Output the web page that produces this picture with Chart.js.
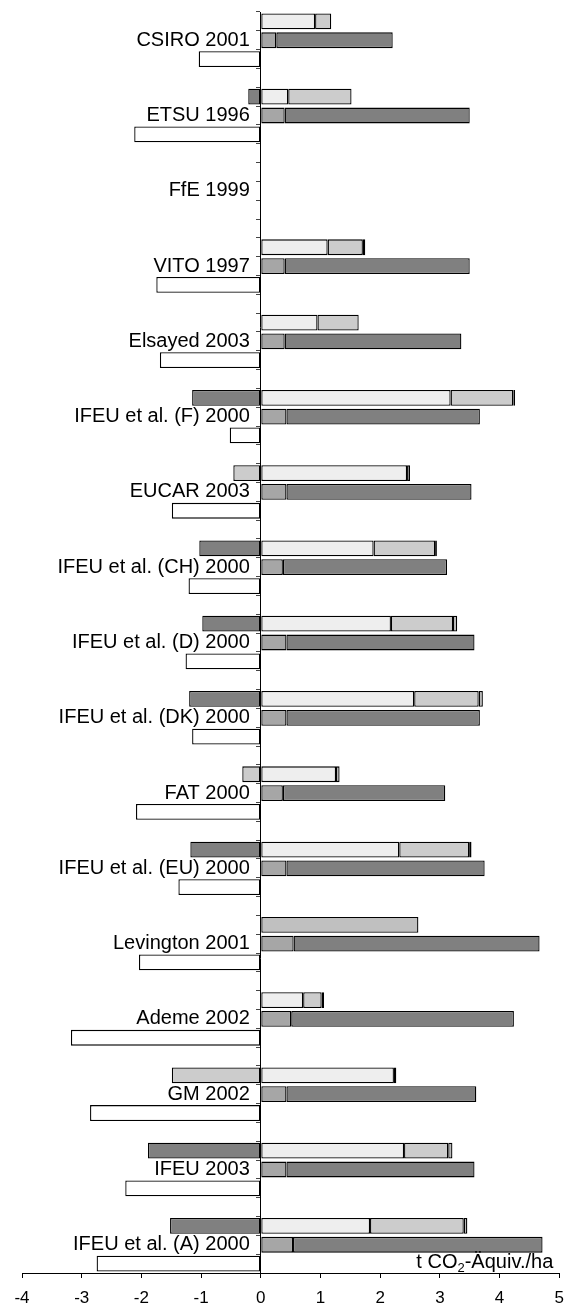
<!DOCTYPE html>
<html>
<head>
<meta charset="utf-8">
<script src="https://cdn.jsdelivr.net/npm/chart.js@4/dist/chart.umd.min.js"></script>
<style>
  html, body { margin: 0; padding: 0; background: #ffffff; }
  #wrap { position: relative; width: 574px; height: 1311px; }
</style>
</head>
<body>
<div id="wrap"><canvas id="c"></canvas></div>
<script>
// ---- data (t CO2-Äquiv./ha) ----
const studies = ["CSIRO 2001", "ETSU 1996", "FfE 1999", "VITO 1997", "Elsayed 2003",
  "IFEU et al. (F) 2000", "EUCAR 2003", "IFEU et al. (CH) 2000", "IFEU et al. (D) 2000",
  "IFEU et al. (DK) 2000", "FAT 2000", "IFEU et al. (EU) 2000", "Levington 2001",
  "Ademe 2002", "GM 2002", "IFEU 2003", "IFEU et al. (A) 2000"];

// upper bar of each study
const topNegDark  = [0, -0.21, 0, 0, 0, -1.15, 0, -1.03, -0.98, -1.20, 0, -1.18, 0, 0, 0, -1.89, -1.52];
const topNegLight = [0, 0, 0, 0, 0, 0, -0.46, 0, 0, 0, -0.31, 0, 0, 0, -1.49, 0, 0];
const topLight    = [0.91, 0.46, 0, 1.12, 0.95, 3.18, 2.45, 1.89, 2.18, 2.57, 1.26, 2.32, 0, 0.71, 2.23, 2.40, 1.83];
const topMid      = [0.27, 1.06, 0, 0.59, 0.69, 1.05, 0, 1.03, 1.04, 1.08, 0, 1.17, 0, 0.31, 0, 0.74, 1.57];
const topOther    = [0, 0, 0, 0, 0, 0, 0, 0, 0, 0, 0, 0, 2.64, 0, 0, 0, 0];
const topThin     = [0, 0, 0, 0.04, 0, 0.03, 0.05, 0.03, 0.07, 0.07, 0.06, 0.04, 0, 0.04, 0.04, 0.07, 0.06];
// middle bar
const midSmall    = [0.26, 0.40, 0, 0.40, 0.40, 0.43, 0.43, 0.37, 0.43, 0.43, 0.37, 0.43, 0.55, 0.51, 0.43, 0.43, 0.54];
const midLarge    = [1.95, 3.10, 0, 3.10, 2.96, 3.24, 3.10, 2.75, 3.15, 3.24, 2.72, 3.32, 4.12, 3.73, 3.18, 3.15, 4.18];
// lower bar
const lowNeg      = [-1.04, -2.12, 0, -1.75, -1.69, -0.52, -1.49, -1.21, -1.26, -1.15, -2.09, -1.38, -2.04, -3.18, -2.86, -2.27, -2.75];

const xTicks = [-4, -3, -2, -1, 0, 1, 2, 3, 4, 5];
const unitPre = "t CO", unitSub = "2", unitPost = "-Äquiv./ha";

// ---- rows: top / middle (labelled) / bottom / spacer ----
const rows = [];
studies.forEach((s, i) => {
  rows.push({cat: i, pos: 0});
  rows.push({cat: i, pos: 1});
  rows.push({cat: i, pos: 2});
  if (i < studies.length - 1) rows.push({cat: i, pos: 3});
});
const rowLabels = rows.map(r => r.pos === 1 ? studies[r.cat] : "");
const rowData = (vals, pos) => rows.map(r => (r.pos === pos && vals[r.cat] !== 0) ? vals[r.cat] : null);

const FONT = "'Liberation Sans', Arial, sans-serif";
const mk = (data, fill, border) => ({
  data, backgroundColor: fill, borderColor: border || "#000000", borderWidth: 1.3,
  borderSkipped: false, barPercentage: 0.84, categoryPercentage: 1.0, stack: "s"
});

const datasets = [
  mk(rowData(topNegDark, 0), "#808080"),
  mk(rowData(topNegLight, 0), "#cccccc"),
  mk(rowData(topLight, 0), "#eeeeee"),
  mk(rowData(topMid, 0), "#cccccc"),
  mk(rowData(topOther, 0), "#c0c0c0"),
  mk(rowData(topThin, 0), "#b8b8b8"),
  mk(rowData(midSmall, 1), "#a6a6a6"),
  mk(rowData(midLarge, 1), "#808080"),
  mk(rowData(lowNeg, 2), "#ffffff")
];

const LABEL_GAP = 11;
const labelShift = {
  id: "labelShift",
  beforeDraw(chart) {
    const ys = chart.scales.y;
    if (!ys || !ys.getLabelItems) return;
    const items = ys.getLabelItems(chart.chartArea);
    if (items && !items._shifted) {
      items.forEach(it => {
        if (it.options && it.options.translation) it.options.translation[0] -= LABEL_GAP;
      });
      items._shifted = true;
    }
  }
};

const unitPlugin = {
  id: "unitLabel",
  afterDraw(chart) {
    const ctx = chart.ctx, xs = chart.scales.x, ca = chart.chartArea;
    const right = xs.getPixelForValue(xTicks[xTicks.length - 1]) - 6;
    const base = ca.bottom - 5;
    ctx.save();
    ctx.fillStyle = "#000";
    ctx.textBaseline = "alphabetic";
    ctx.font = "20px " + FONT;
    const w1 = ctx.measureText(unitPre).width, w3 = ctx.measureText(unitPost).width;
    ctx.font = "13px " + FONT;
    const w2 = ctx.measureText(unitSub).width;
    let x = right - (w1 + w2 + w3);
    ctx.font = "20px " + FONT;
    ctx.fillText(unitPre, x, base); x += w1;
    ctx.font = "13px " + FONT;
    ctx.fillText(unitSub, x, base + 4); x += w2;
    ctx.font = "20px " + FONT;
    ctx.fillText(unitPost, x, base);
    ctx.restore();
  }
};

new Chart(document.getElementById("c"), {
  type: "bar",
  data: { labels: rowLabels, datasets },
  plugins: [labelShift, unitPlugin],
  options: {
    indexAxis: "y",
    responsive: true,
    maintainAspectRatio: false,
    animation: false,
    layout: { padding: { left: 22, right: 12, top: 0, bottom: 0 } },
    plugins: { legend: { display: false }, tooltip: { enabled: false } },
    scales: {
      x: {
        type: "linear", stacked: true, min: xTicks[0], max: xTicks[xTicks.length - 1],
        afterBuildTicks: (s) => { s.ticks = xTicks.map(v => ({value: v})); },
        afterFit: (s) => { s.height = 38; },
        grid: { drawOnChartArea: false, drawTicks: true, tickLength: 5, color: "#000" },
        border: { display: true, color: "#000", width: 1 },
        ticks: { color: "#000", font: { family: FONT, size: 17 }, padding: 10, maxRotation: 0 }
      },
      y: {
        type: "category", stacked: true, position: { x: 0 }, z: 1,
        grid: { drawOnChartArea: false, drawTicks: true, tickLength: 4, color: "#444", offset: true },
        border: { display: true, color: "#000", width: 1 },
        ticks: { autoSkip: false, color: "#000", font: { family: FONT, size: 20 }, padding: 0 }
      }
    }
  }
});
</script>
</body>
</html>
